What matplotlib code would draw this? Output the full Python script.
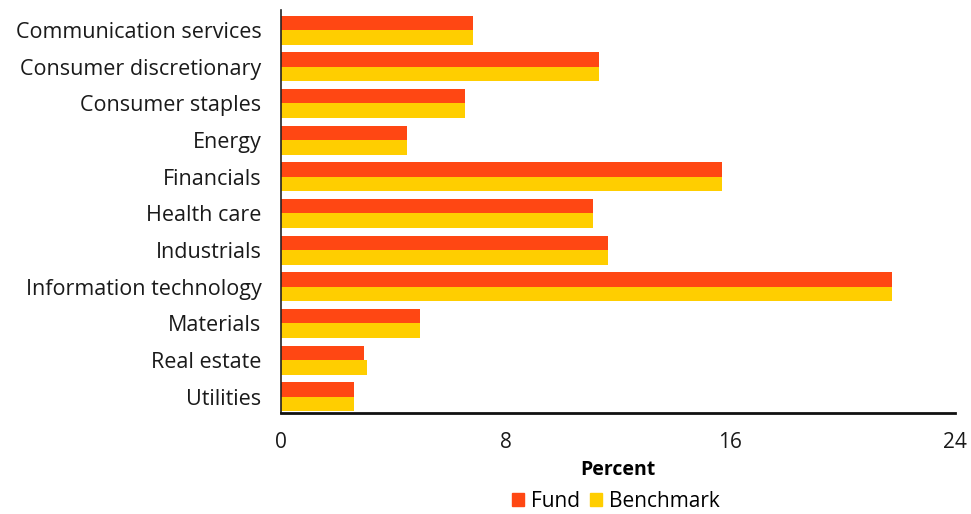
import numpy as np
import matplotlib.pyplot as plt
from matplotlib.patches import Patch

sectors = ["Communication services", "Consumer discretionary", "Consumer staples",
           "Energy", "Financials", "Health care", "Industrials",
           "Information technology", "Materials", "Real estate", "Utilities"]
fund = [6.84, 11.32, 6.55, 4.49, 15.72, 11.1, 11.63, 21.74, 4.95, 2.97, 2.6]
benchmark = [6.84, 11.32, 6.55, 4.49, 15.72, 11.1, 11.63, 21.74, 4.95, 3.06, 2.6]
xticks = [0, 8, 16, 24]

fund_color = "#FF4713"
bench_color = "#FFCE00"

plt.rcParams['font.family'] = ['Open Sans', 'DejaVu Sans']

fig = plt.figure(figsize=(9.71, 5.14), dpi=100)
ax = fig.add_axes([0.2894, 0.1965, 0.6941, 0.784])

y = np.arange(len(sectors))
h = 0.395
ax.barh(y - h / 2, fund, height=h, color=fund_color, label="Fund")
ax.barh(y + h / 2, benchmark, height=h, color=bench_color, label="Benchmark")

ax.set_ylim(10.44, -0.545)
ax.set_xlim(0, 24)
ax.set_yticks(y)
ax.set_yticklabels(sectors, fontsize=15.5, color="#1a1a1a")
ax.set_xticks(xticks)
ax.set_xticklabels([str(t) for t in xticks], fontsize=15, color="#1a1a1a")
ax.tick_params(axis="both", length=0)
ax.tick_params(axis="x", pad=14)
ax.tick_params(axis="y", pad=14)

for s in ["top", "right"]:
    ax.spines[s].set_visible(False)
ax.spines["left"].set_linewidth(1.2)
ax.spines["bottom"].set_linewidth(2)
ax.spines["left"].set_color("#222222")
ax.spines["bottom"].set_color("#111111")

ax.set_xlabel("Percent", fontsize=14, fontweight="bold", labelpad=5)

handles = [Patch(color=fund_color, label="Fund"),
           Patch(color=bench_color, label="Benchmark")]
fig.legend(handles=handles, loc="lower center", bbox_to_anchor=(0.634, -0.033),
           ncol=2, frameon=False, fontsize=15, handlelength=0.6, handleheight=0.6,
           handletextpad=0.3, columnspacing=0.5)

fig.savefig("out.png", dpi=100)
